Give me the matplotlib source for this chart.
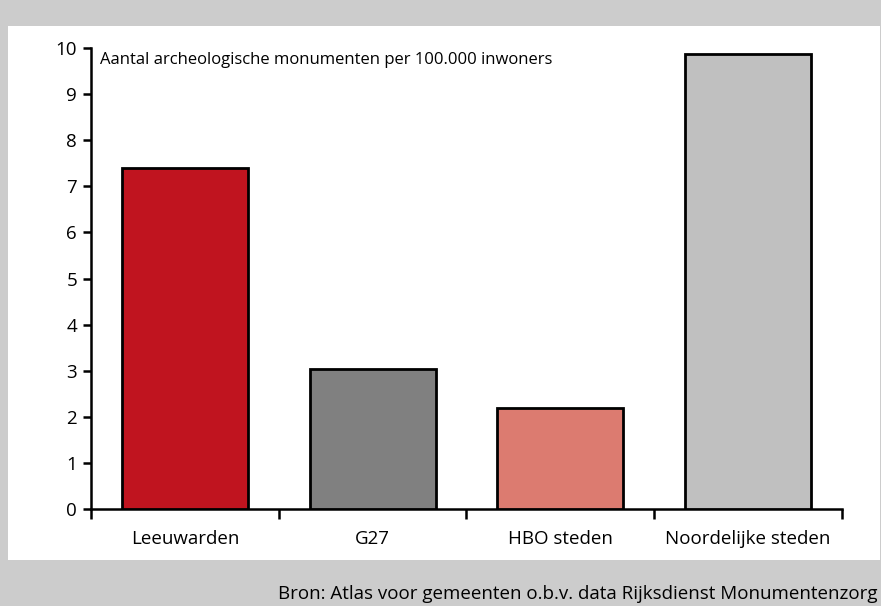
import matplotlib
matplotlib.use("Agg")
import matplotlib.pyplot as plt
from matplotlib.patches import Rectangle
import numpy as np

plt.rcParams['font.family'] = ['Open Sans', 'DejaVu Sans']

categories = ['Leeuwarden', 'G27', 'HBO steden', 'Noordelijke steden']
values = [7.39, 3.04, 2.19, 9.87]
colors = ['#c0141f', '#808080', '#dc7b70', '#c0c0c0']
yticks = list(range(0, 11))
title_text = 'Aantal archeologische monumenten per 100.000 inwoners'
source_text = 'Bron: Atlas voor gemeenten o.b.v. data Rijksdienst Monumentenzorg'

W, H = 881, 606
fig = plt.figure(figsize=(W / 100, H / 100), dpi=100)
fig.patch.set_facecolor('#cccccc')

# white panel behind the chart
fig.patches.append(Rectangle((8 / W, 1 - 560 / H), (880 - 8) / W, (560 - 26) / H,
                             transform=fig.transFigure, facecolor='white',
                             edgecolor='none', zorder=-10))

ax = fig.add_axes([91 / W, 1 - 509 / H, (842 - 91) / W, (509 - 48) / H])
ax.set_facecolor('none')

x = np.arange(len(categories))
ax.bar(x, values, width=0.67, color=colors, edgecolor='black', linewidth=2, zorder=3)

ax.set_xlim(-0.5, len(categories) - 0.5)
ax.set_ylim(0, 10)
ax.set_yticks(yticks)
ax.tick_params(axis='y', direction='out', length=6, width=1.8, labelsize=13.5, pad=4)

# category labels centred, tick marks at the boundaries
ax.set_xticks(np.arange(len(categories) + 1) - 0.5)
ax.set_xticklabels([])
ax.set_xticks(x, minor=True)
ax.set_xticklabels(categories, minor=True)
ax.tick_params(axis='x', which='major', direction='out', length=7, width=1.8)
ax.tick_params(axis='x', which='minor', length=0, labelsize=13.5, pad=15)

for s in ['top', 'right']:
    ax.spines[s].set_visible(False)
for s in ['left', 'bottom']:
    ax.spines[s].set_linewidth(1.8)

ax.text(0.012, 0.974, title_text, transform=ax.transAxes, fontsize=12,
        ha='left', va='center')

fig.text(878 / W, 1 - 594 / H, source_text, fontsize=13.5, ha='right', va='center')

plt.savefig('out.png', dpi=100, facecolor=fig.get_facecolor())
